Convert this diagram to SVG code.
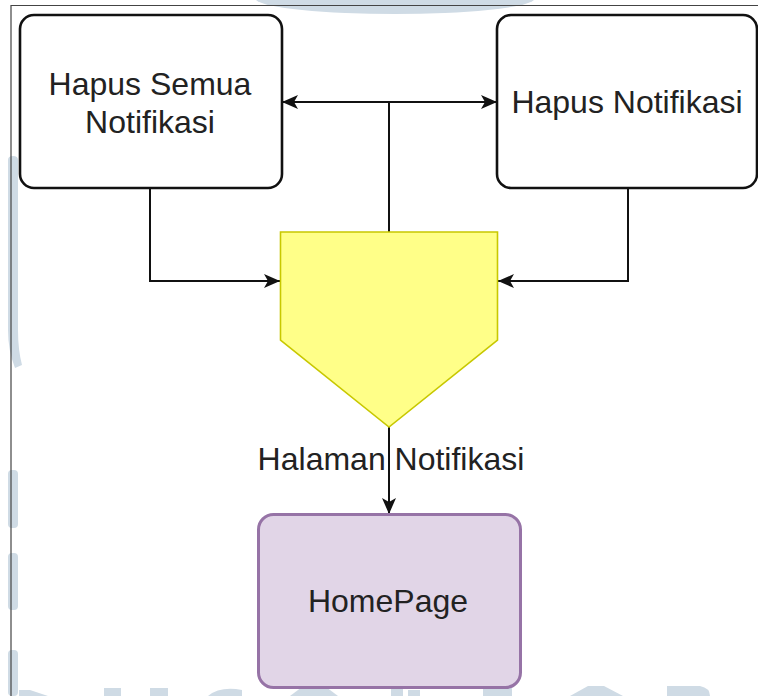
<svg xmlns="http://www.w3.org/2000/svg" width="758" height="696" viewBox="0 0 758 696">
  <style>
    .lbl { font-family: "Liberation Sans", Arial, sans-serif; font-size: 32px; fill: #222; text-anchor: middle; }
    .box { fill: #ffffff; stroke: #111; stroke-width: 2.6; }
    .edge { fill: none; stroke: #111; stroke-width: 2; }
    .wm { fill: #cfdbe5; }
  </style>
  <defs>
    <marker id="arr" viewBox="0 0 16 14" refX="16" refY="7" markerWidth="16" markerHeight="14" markerUnits="userSpaceOnUse" orient="auto">
      <path d="M0,0 L16,7 L0,14 L4,7 Z" fill="#111"/>
    </marker>
  </defs>
  <rect width="758" height="696" fill="#ffffff"/>

  <!-- faint watermark background -->
  <g id="watermark">
    <path class="wm" d="M256,0 A140,16 0 0 0 534,0 Z"/>
    <path class="wm" d="M8,160 Q8,156 13,156 Q18,156 18,160 L18,330 Q18,350 22,365 L15,368 Q8,350 8,330 Z"/>
    <rect class="wm" x="8" y="470" width="10" height="58" rx="4"/>
    <rect class="wm" x="8" y="553" width="10" height="57" rx="4"/>
    <rect class="wm" x="8" y="650" width="10" height="46" rx="4"/>
    <path class="wm" d="M19,690 L30,690 L48,696 L19,696 Z"/>
    <rect class="wm" x="104" y="688" width="17" height="8"/>
    <rect class="wm" x="150" y="688" width="18" height="8"/>
    <path class="wm" d="M208,696 Q220,686 242,690 L242,696 Z"/>
    <path class="wm" d="M290,696 L306,684 L322,684 L338,696 Z"/>
    <rect class="wm" x="391" y="686" width="12" height="10"/>
    <rect class="wm" x="408" y="690" width="12" height="6"/>
    <rect class="wm" x="483" y="688" width="29" height="8"/>
    <path class="wm" d="M570,696 L588,686 L604,686 L623,696 Z"/>
    <path class="wm" d="M667,686 L700,686 Q710,688 710,696 L667,696 Z"/>
  </g>

  <!-- page frame -->
  <g id="frame" fill="none" stroke="#444" stroke-width="1.2">
    <path d="M11,696 V5.5 H758"/>
  </g>

  <g id="connectors">
    <path class="edge" d="M389,232 V102"/>
    <path class="edge" d="M389,102 H282" marker-end="url(#arr)"/>
    <path class="edge" d="M389,102 H497" marker-end="url(#arr)"/>
    <path class="edge" d="M150,188 V281 H280" marker-end="url(#arr)"/>
    <path class="edge" d="M628,188 V281 H498" marker-end="url(#arr)"/>
    <path class="edge" d="M389,427 V514" marker-end="url(#arr)"/>
    <text class="lbl" x="391" y="470">Halaman Notifikasi</text>
  </g>

  <g id="hapus-semua">
    <rect class="box" x="20" y="15" width="262" height="173" rx="14"/>
    <text class="lbl" x="150" y="95">Hapus Semua</text>
    <text class="lbl" x="150" y="133">Notifikasi</text>
  </g>

  <g id="hapus-notifikasi">
    <rect class="box" x="497" y="15" width="260" height="173" rx="14"/>
    <text class="lbl" x="627" y="113">Hapus Notifikasi</text>
  </g>

  <g id="halaman-notifikasi">
    <path d="M280.5,232 H497.5 V340 L389,427 L280.5,340 Z" fill="#ffff88" stroke="#c8c800" stroke-width="1.6"/>
  </g>

  <g id="homepage">
    <rect x="258.5" y="514.5" width="262" height="173" rx="15" fill="#e1d5e7" stroke="#9673a6" stroke-width="3"/>
    <text class="lbl" x="388" y="612">HomePage</text>
  </g>
</svg>
